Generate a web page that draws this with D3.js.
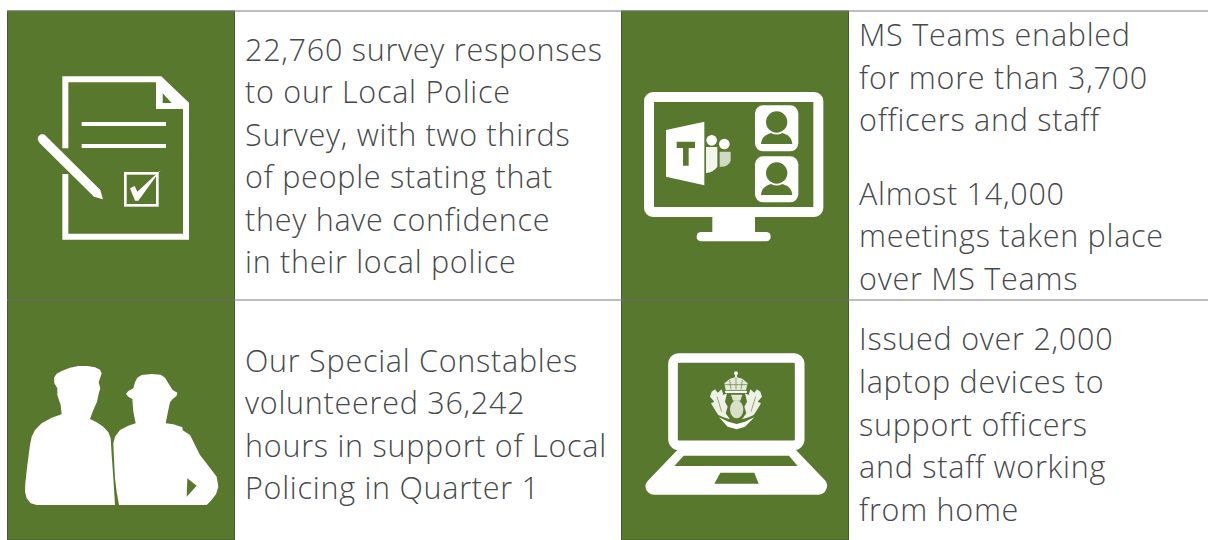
<!DOCTYPE html>
<html>
<head>
<meta charset="utf-8">
<script src="https://cdn.jsdelivr.net/npm/d3@7"></script>
<style>
  html, body { margin: 0; padding: 0; background: #fff; overflow: hidden; }
  text { font-family: "Open Sans", Lato, sans-serif; font-weight: 300; }
</style>
</head>
<body>
<div id="chart"></div>
<script>
// panel contents, an empty string is a paragraph gap
const panels = ["survey", "teams", "specials", "laptops"];
const surveyLines = ["22,760 survey responses", "to our Local Police", "Survey, with two thirds", "of people stating that", "they have confidence", "in their local police"];
const teamsLines = ["MS Teams enabled", "for more than 3,700", "officers and staff", "", "Almost 14,000", "meetings taken place", "over MS Teams"];
const specialsLines = ["Our Special Constables", "volunteered 36,242", "hours in support of Local", "Policing in Quarter 1"];
const laptopsLines = ["Issued over 2,000", "laptop devices to", "support officers", "and staff working", "from home"];
const panelLines = [surveyLines, teamsLines, specialsLines, laptopsLines];

const width = 1208;
const height = 540;
const green = "#58782e";
const ink = "#46494b";
const rule = "#7d7f7d";

const svg = d3.select("#chart").append("svg")
    .attr("width", width)
    .attr("height", height)
    .style("display", "block");

const colLeft = d3.scaleOrdinal(panels, [7.5, 621.5, 7.5, 621.5]);
const rowTop = d3.scaleOrdinal(panels, [11, 11, 300, 300]);
const rowBottom = d3.scaleOrdinal(panels, [300, 300, 540, 540]);
const firstBase = d3.scaleOrdinal(panels, [61, 46, 372, 350]);
const lineStep = d3.scaleOrdinal(panels, [42.4, 42.6, 42.4, 42.8]);
const gapStep = 31;
const blockWidth = 227;

// green blocks
svg.selectAll("rect.block")
    .data(panels)
    .enter().append("rect")
    .attr("class", "block")
    .attr("x", d => colLeft(d))
    .attr("y", d => rowTop(d))
    .attr("width", blockWidth)
    .attr("height", d => rowBottom(d) - rowTop(d))
    .attr("fill", green)
    .attr("stroke", "#47592f")
    .attr("stroke-width", 1);

// grid rules
svg.selectAll("line.rule")
    .data([11, 300])
    .enter().append("line")
    .attr("class", "rule")
    .attr("x1", 7)
    .attr("x2", width)
    .attr("y1", d => d)
    .attr("y2", d => d)
    .attr("stroke", rule)
    .attr("stroke-width", 1.2);

// text blocks
panels.forEach(function(p, i) {
    let y = firstBase(p);
    panelLines[i].forEach(function(line) {
        if (line === "") {
            y += gapStep;
            return;
        }
        svg.append("text")
            .attr("x", colLeft(p) + blockWidth + 10.5)
            .attr("y", y)
            .attr("fill", ink)
            .attr("font-size", 30.5)
            .attr("letter-spacing", 0.75)
            .text(line);
        y += lineStep(p);
    });
});

// icons in 3x crop units
function iconGroup(x, y) {
    return svg.append("g").attr("transform", `translate(${x},${y}) scale(${1 / 3})`);
}
const straight = d3.line().curve(d3.curveLinearClosed);

// document with pen
{
    const g = iconGroup(0, 0);
    g.append("path")
        .attr("d", "M196,445V238H480L558,312V710H196V522")
        .attr("fill", "none").attr("stroke", "#fff").attr("stroke-width", 18);
    g.append("path")
        .attr("d", "M477,240V318H556")
        .attr("fill", "none").attr("stroke", "#fff").attr("stroke-width", 18);
    g.append("path").attr("d", "M482,240L556,312H482Z").attr("fill", "#fff");
    g.append("path").attr("d", "M488,280L515,309H488Z").attr("fill", green);
    g.selectAll("line.doc")
        .data([372, 438])
        .enter().append("line")
        .attr("x1", 245).attr("x2", 498)
        .attr("y1", d => d).attr("y2", d => d)
        .attr("stroke", "#fff").attr("stroke-width", 12);
    g.append("path")
        .attr("d", "M113,418C113,405 128,398 137,407L301,570L309,598L282,590L118,428Z")
        .attr("fill", "#fff");
    g.append("rect")
        .attr("x", 376).attr("y", 520).attr("width", 96).attr("height", 96)
        .attr("fill", "none").attr("stroke", "#fff").attr("stroke-width", 8);
    g.append("path")
        .attr("d", "M390,565L404,558L412,575L482,510L415,602H405Z")
        .attr("fill", "#fff");
}

// monitor with Teams logo
{
    const g = iconGroup(615, 0);
    g.append("rect")
        .attr("x", 102).attr("y", 291).attr("width", 508).attr("height", 345).attr("rx", 12)
        .attr("fill", "none").attr("stroke", "#fff").attr("stroke-width", 30);
    g.append("path").attr("d", "M292,650H420V696H292Z").attr("fill", "#fff");
    g.append("rect").attr("x", 245).attr("y", 696).attr("width", 222).attr("height", 28).attr("rx", 13).attr("fill", "#fff");
    g.append("path").attr("d", "M153,390L268,365V556L153,530Z").attr("fill", "#fff");
    g.append("path").attr("d", "M185,425H240V444H221V497H204V444H185Z").attr("fill", green);
    g.append("circle").attr("cx", 290).attr("cy", 421).attr("r", 16).attr("fill", "#fff");
    g.append("circle").attr("cx", 328).attr("cy", 432).attr("r", 16).attr("fill", "#fff");
    g.append("path").attr("d", "M273,441H307V500Q295,517 273,519Z").attr("fill", "#fff").attr("opacity", 0.92);
    g.append("path").attr("d", "M314,455H347V482Q340,502 314,500Z").attr("fill", "#fff").attr("opacity", 0.72);
    g.selectAll("g.avatar")
        .data([316, 469])
        .enter().append("g")
        .attr("transform", d => `translate(420,${d})`)
        .each(function() {
            const a = d3.select(this);
            a.append("rect").attr("width", 130).attr("height", 138).attr("rx", 24).attr("fill", "#fff");
            a.append("circle").attr("cx", 65).attr("cy", 50).attr("r", 32).attr("fill", green);
            a.append("path").attr("d", "M18,116C20,95 32,88 48,83Q65,92 82,83C98,88 110,95 112,116Z").attr("fill", green);
        });
}

// two officers
{
    const g = iconGroup(0, 295);
    const left = [[162,248],[170,236],[185,228],[210,218],[235,213],[262,213],[285,217],[300,224],[305,235],[300,250],[296,262],[301,280],[296,296],[291,320],[280,345],[270,372],[290,382],[310,395],[325,412],[332,430],[335,480],[340,550],[345,630],[110,630],[92,625],[80,610],[75,590],[76,565],[82,510],[90,450],[95,425],[105,405],[125,385],[155,368],[185,358],[182,330],[172,300],[172,280],[163,265]];
    const right = [[405,262],[412,248],[425,240],[455,237],[482,239],[495,248],[505,265],[518,285],[532,293],[530,302],[518,312],[510,322],[503,355],[497,385],[520,388],[547,397],[548,406],[570,420],[585,450],[600,480],[625,512],[650,545],[655,575],[648,598],[632,618],[620,630],[357,630],[350,590],[345,550],[342,490],[340,445],[345,425],[360,405],[385,392],[407,385],[400,350],[397,312],[385,305],[378,297],[385,288],[400,280]];
    g.append("path").attr("d", straight(left)).attr("fill", "#fff");
    g.append("path").attr("d", straight(right)).attr("fill", "#fff");
    g.append("path").attr("d", straight([[562,550],[590,572],[560,605]])).attr("fill", green);
}

// laptop with crest
{
    const g = iconGroup(615, 295);
    g.append("rect")
        .attr("x", 174).attr("y", 189).attr("width", 380).attr("height", 262).attr("rx", 18)
        .attr("fill", "none").attr("stroke", "#fff").attr("stroke-width", 29);
    g.append("path").attr("d", "M190,462H540L632,558Q642,572 630,590Q622,599 610,599H118Q104,599 96,588Q86,572 98,558Z").attr("fill", "#fff");
    g.append("path").attr("d", "M206,482H522L548,513H178Z").attr("fill", green);
    g.append("path").attr("d", "M316,533H418L431,566H298Z").attr("fill", green);

    // crest: crown, thistle, wreath and ribbon
    const crest = g.append("g").attr("transform", "translate(240,195)");
    const leaf = [[50,95],[60,88],[68,98],[80,88],[85,105],[96,100],[90,125],[98,140],[92,160],[105,178],[85,172],[70,165],[60,150],[48,130],[58,125],[45,110]];
    crest.append("path").attr("d", straight(leaf)).attr("fill", "#eef1e8");
    crest.append("path").attr("d", straight(leaf)).attr("fill", "#eef1e8")
        .attr("transform", "translate(246,0) scale(-1,1)");
    crest.append("path").attr("d", "M66,110L80,155M182,110L168,155")
        .attr("fill", "none").attr("stroke", green).attr("stroke-width", 3).attr("opacity", 0.6);
    crest.append("path")
        .attr("d", straight([[72,172],[100,185],[125,192],[150,185],[178,172],[150,200],[125,208],[98,200]]))
        .attr("fill", "#fff");
    crest.append("path")
        .attr("d", straight([[108,104],[142,104],[136,122],[114,122]]))
        .attr("fill", "#dfe6d3");
    crest.append("ellipse").attr("cx", 125).attr("cy", 148).attr("rx", 20).attr("ry", 27).attr("fill", "#d8e0c9");
    crest.append("circle").attr("cx", 123).attr("cy", 40).attr("r", 6).attr("fill", "#fff");
    crest.append("rect").attr("x", 120).attr("y", 42).attr("width", 6).attr("height", 14).attr("fill", "#fff");
    crest.append("path")
        .attr("d", straight([[92,90],[88,70],[105,56],[123,51],[142,56],[158,70],[153,90]]))
        .attr("fill", "#e4eada");
    crest.append("path").attr("d", "M104,60L108,88M123,53V88M142,60L138,88M90,74H156")
        .attr("fill", "none").attr("stroke", green).attr("stroke-width", 3).attr("opacity", 0.65);
    crest.append("rect").attr("x", 90).attr("y", 92).attr("width", 66).attr("height", 7).attr("rx", 3).attr("fill", "#fff");
}
</script>
</body>
</html>
